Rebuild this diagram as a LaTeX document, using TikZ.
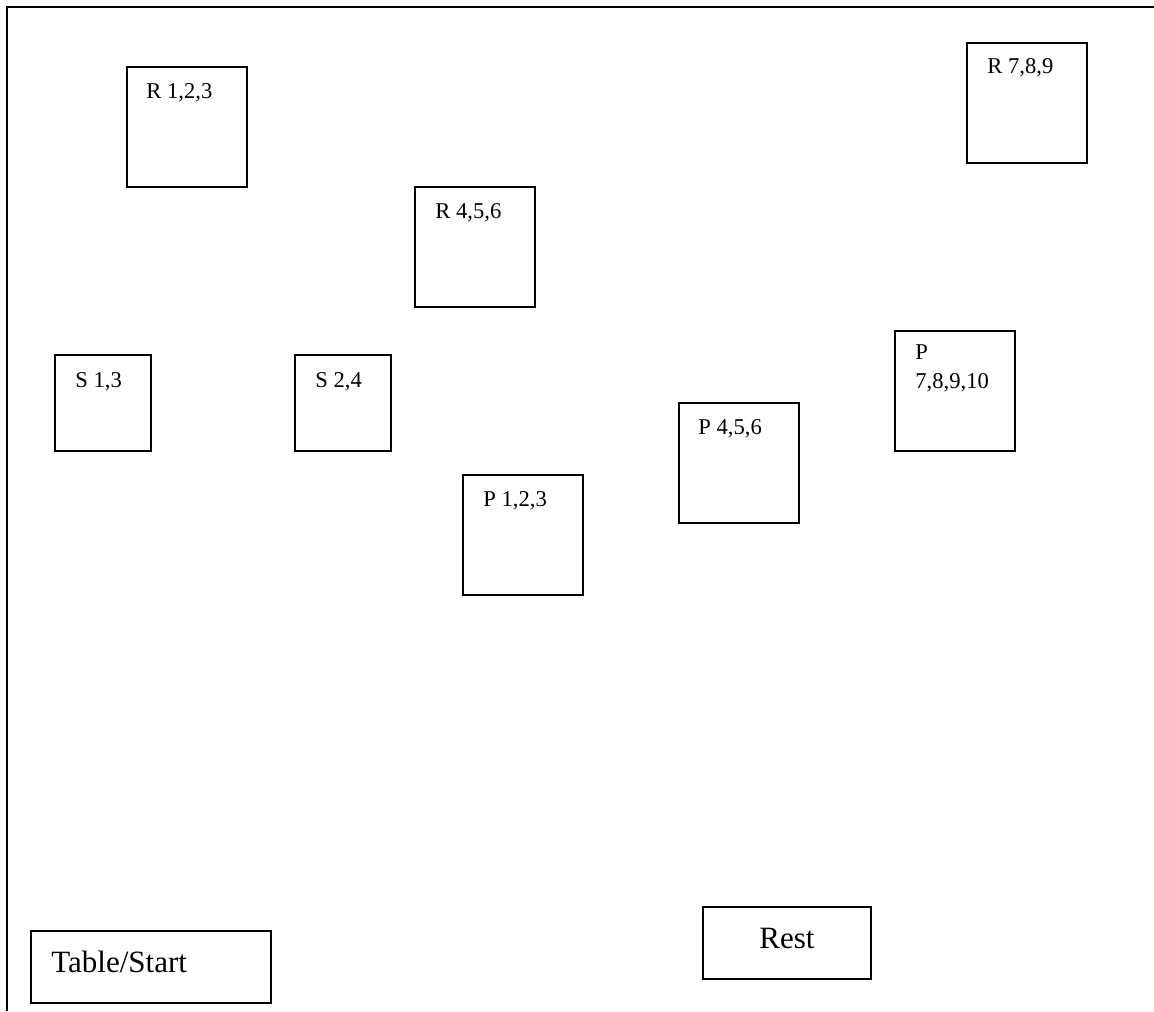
\documentclass[tikz,border=0pt]{standalone}
\usepackage{fontspec}
\setmainfont{Liberation Serif}
\begin{document}
\begin{tikzpicture}[x=0.5pt,y=-0.5pt,
  boxsq/.style={draw,line width=0.9pt,inner sep=0pt,anchor=north west,minimum width=#1*0.5pt,minimum height=#1*0.5pt},
  boxrect/.style 2 args={draw,line width=0.9pt,inner sep=0pt,anchor=north west,minimum width=#1*0.5pt,minimum height=#2*0.5pt},
  small/.style={inner sep=0pt,anchor=base west,font=\fontsize{11.3pt}{13pt}\selectfont},
  big/.style={inner sep=0pt,anchor=base west,font=\fontsize{15.5pt}{18pt}\selectfont}]
\useasboundingbox (0,0) rectangle (1154,1011);
% frame
\coordinate (fbl) at (7,1011);
\coordinate (ftl) at (7,7);
\coordinate (ftr) at (1154,7);
\draw[line width=0.9pt] (fbl) -- (ftl) -- (ftr);
% boxes
\node[boxsq=120] (r123) at (126,66) {};
\node[small] (tr123) at (146,98) {R 1,2,3};
\node[boxsq=120] (r789) at (966,42) {};
\node[small] (tr789) at (987,74) {R 7,8,9};
\node[boxsq=120] (r456) at (414,186) {};
\node[small] (tr456) at (435,218) {R 4,5,6};
\node[boxsq=96] (s13) at (54,354) {};
\node[small] (ts13) at (75,387) {S 1,3};
\node[boxsq=96] (s24) at (294,354) {};
\node[small] (ts24) at (315,387) {S 2,4};
\node[boxsq=120] (p123) at (462,474) {};
\node[small] (tp123) at (483,506) {P 1,2,3};
\node[boxsq=120] (p456) at (678,402) {};
\node[small] (tp456) at (698,434) {P 4,5,6};
\node[boxsq=120] (p78910) at (894,330) {};
\node[small] (tp78910a) at (915,359) {P};
\node[small] (tp78910b) at (915,388) {7,8,9,10};
\node[boxrect={240}{72}] (tab) at (30,930) {};
\node[big] (ttab) at (51,972) {Table/Start};
\node[boxrect={168}{72}] (rest) at (702,906) {};
\node[big] (trest) at (759,948) {Rest};
\end{tikzpicture}
\end{document}
